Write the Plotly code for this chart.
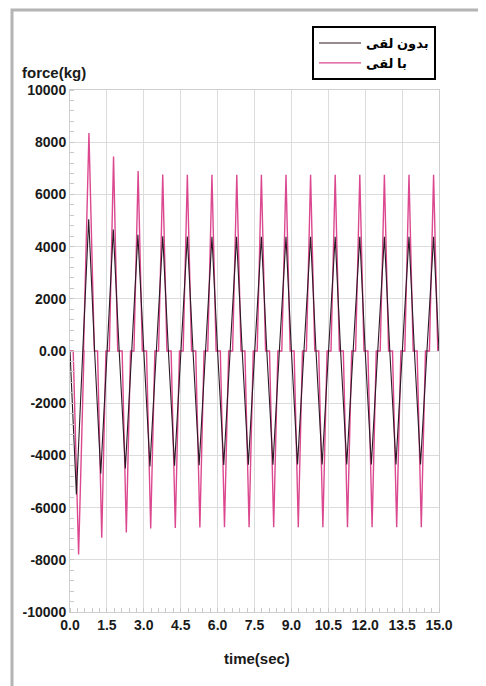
import plotly.graph_objects as go

# ---- data ----
cycle_start = [0, 1, 2, 3, 4, 5, 6, 7, 8, 9, 10, 11, 12, 13, 14]

black_trough_t = [0.26, 1.25, 2.25, 3.25, 4.25, 5.25, 6.25, 7.25, 8.25, 9.25, 10.25, 11.25, 12.25, 13.25, 14.25]
black_trough_v = [-5500, -4700, -4500, -4420, -4400, -4380, -4370, -4360, -4360, -4350, -4350, -4350, -4350, -4350, -4350]
black_mid_zero_t = [0.52, 1.51, 2.51, 3.51, 4.51, 5.51, 6.51, 7.51, 8.51, 9.51, 10.51, 11.51, 12.51, 13.51, 14.51]
black_peak_t = [0.76, 1.76, 2.76, 3.77, 4.77, 5.77, 6.77, 7.78, 8.78, 9.78, 10.78, 11.78, 12.78, 13.78, 14.78]
black_peak_v = [5050, 4650, 4450, 4400, 4390, 4380, 4380, 4380, 4380, 4380, 4380, 4380, 4380, 4380, 4380]
black_end = (15.0, 0)

mag_trough_t = [0.35, 1.29, 2.29, 3.28, 4.28, 5.28, 6.28, 7.28, 8.28, 9.28, 10.28, 11.28, 12.28, 13.28, 14.28]
mag_trough_v = [-7800, -7150, -6950, -6800, -6780, -6760, -6750, -6750, -6750, -6750, -6750, -6750, -6750, -6750, -6750]
mag_peak_t = [0.77, 1.77, 2.77, 3.77, 4.77, 5.77, 6.78, 7.78, 8.78, 9.78, 10.78, 11.78, 12.78, 13.78, 14.78]
mag_peak_v = [8350, 7450, 6900, 6760, 6750, 6750, 6750, 6750, 6750, 6750, 6750, 6750, 6750, 6750, 6750]
mag_half_base = [0.22, 0.17, 0.17, 0.17, 0.17, 0.17, 0.17, 0.17, 0.17, 0.17, 0.17, 0.17, 0.17, 0.17, 0.17]
mag_end = (15.0, 150)

x_tick_vals = [0, 1.5, 3, 4.5, 6, 7.5, 9, 10.5, 12, 13.5, 15]
x_tick_text = ["0.0", "1.5", "3.0", "4.5", "6.0", "7.5", "9.0", "10.5", "12.0", "13.5", "15.0"]
y_tick_vals = [10000, 8000, 6000, 4000, 2000, 0, -2000, -4000, -6000, -8000, -10000]
y_tick_text = ["10000", "8000", "6000", "4000", "2000", "0.00", "-2000", "-4000", "-6000", "-8000", "-10000"]

name_black = "بدون لقی"
name_mag = "با لقی"

# ---- build polylines from the read vertices ----
bx, by = [], []
for i, c in enumerate(cycle_start):
    bx += [c, black_trough_t[i], black_mid_zero_t[i], black_peak_t[i]]
    by += [0, black_trough_v[i], 0, black_peak_v[i]]
bx.append(black_end[0]); by.append(black_end[1])

mx, my = [0.0], [0]
for i, c in enumerate(cycle_start):
    h = mag_half_base[i]
    mx += [mag_trough_t[i] - h, mag_trough_t[i], mag_trough_t[i] + h,
           mag_peak_t[i] - h, mag_peak_t[i], mag_peak_t[i] + h]
    my += [0, mag_trough_v[i], 0, 0, mag_peak_v[i], 0]
mx += [14.97, mag_end[0]]; my += [mag_end[1], mag_end[1]]

FONT = "Liberation Sans, Arial, DejaVu Sans, sans-serif"

fig = go.Figure()
fig.add_trace(go.Scatter(x=mx, y=my, mode="lines", name=name_mag, legendrank=2,
                         line=dict(color="#dc4890", width=1.4)))
fig.add_trace(go.Scatter(x=bx, y=by, mode="lines", name=name_black, legendrank=1,
                         line=dict(color="#2a1a24", width=1.1)))

OFF = 8  # page body margin
W, H = 486 - OFF, 686 - OFF
L, R, T, B = 70 - OFF, 47, 90 - OFF, 74
pw, ph = W - L - R, H - T - B

def px(xp):
    return (xp - OFF - L) / pw

def py(yp):
    return (H - B - (yp - OFF)) / ph

fig.update_layout(
    width=W, height=H,
    margin=dict(l=L, r=R, t=T, b=B, pad=0, autoexpand=False),
    paper_bgcolor="white", plot_bgcolor="white",
    font=dict(family=FONT, size=14, color="#1a1a1a"),
    showlegend=True,
    legend=dict(x=px(312), y=py(26), xanchor="left", yanchor="top",
                bordercolor="black", borderwidth=2, bgcolor="white",
                font=dict(family=FONT, size=13, color="black", weight="bold"),
                tracegroupgap=0, itemwidth=42),
    xaxis=dict(range=[0, 15], tickvals=x_tick_vals, ticktext=x_tick_text, automargin=False,
               showgrid=True, gridcolor="#dcdcdc", gridwidth=1,
               zeroline=False, showline=True, linecolor="#cfcfcf", linewidth=1, mirror=True,
               ticks="", tickfont=dict(size=14, weight="bold", color="#1a1a1a"),
               minor=dict(dtick=0.3, ticks="inside", ticklen=4, tickcolor="#c8c8c8", showgrid=False)),
    yaxis=dict(range=[-10000, 10000], tickvals=y_tick_vals, ticktext=y_tick_text, automargin=False,
               showgrid=True, gridcolor="#dcdcdc", gridwidth=1,
               zeroline=False, showline=True, linecolor="#cfcfcf", linewidth=1, mirror=True,
               ticks="", tickfont=dict(size=14, weight="bold", color="#1a1a1a"),
               minor=dict(dtick=400, ticks="inside", ticklen=4, tickcolor="#c8c8c8", showgrid=False)),
    shapes=[
        dict(type="rect", xref="paper", yref="paper",
             x0=px(12), x1=px(520), y0=py(720), y1=py(10),
             line=dict(color="#b4b4b4", width=3), layer="below"),
    ],
    annotations=[
        dict(text="force(kg)", xref="paper", yref="paper", x=px(54), y=py(73),
             xanchor="center", yanchor="middle", showarrow=False,
             font=dict(family=FONT, size=15, weight="bold", color="#1a1a1a")),
        dict(text="time(sec)", xref="paper", yref="paper", x=px(257), y=py(658),
             xanchor="center", yanchor="middle", showarrow=False,
             font=dict(family=FONT, size=15, weight="bold", color="#1a1a1a")),
    ],
)

fig.write_html("out.html")
